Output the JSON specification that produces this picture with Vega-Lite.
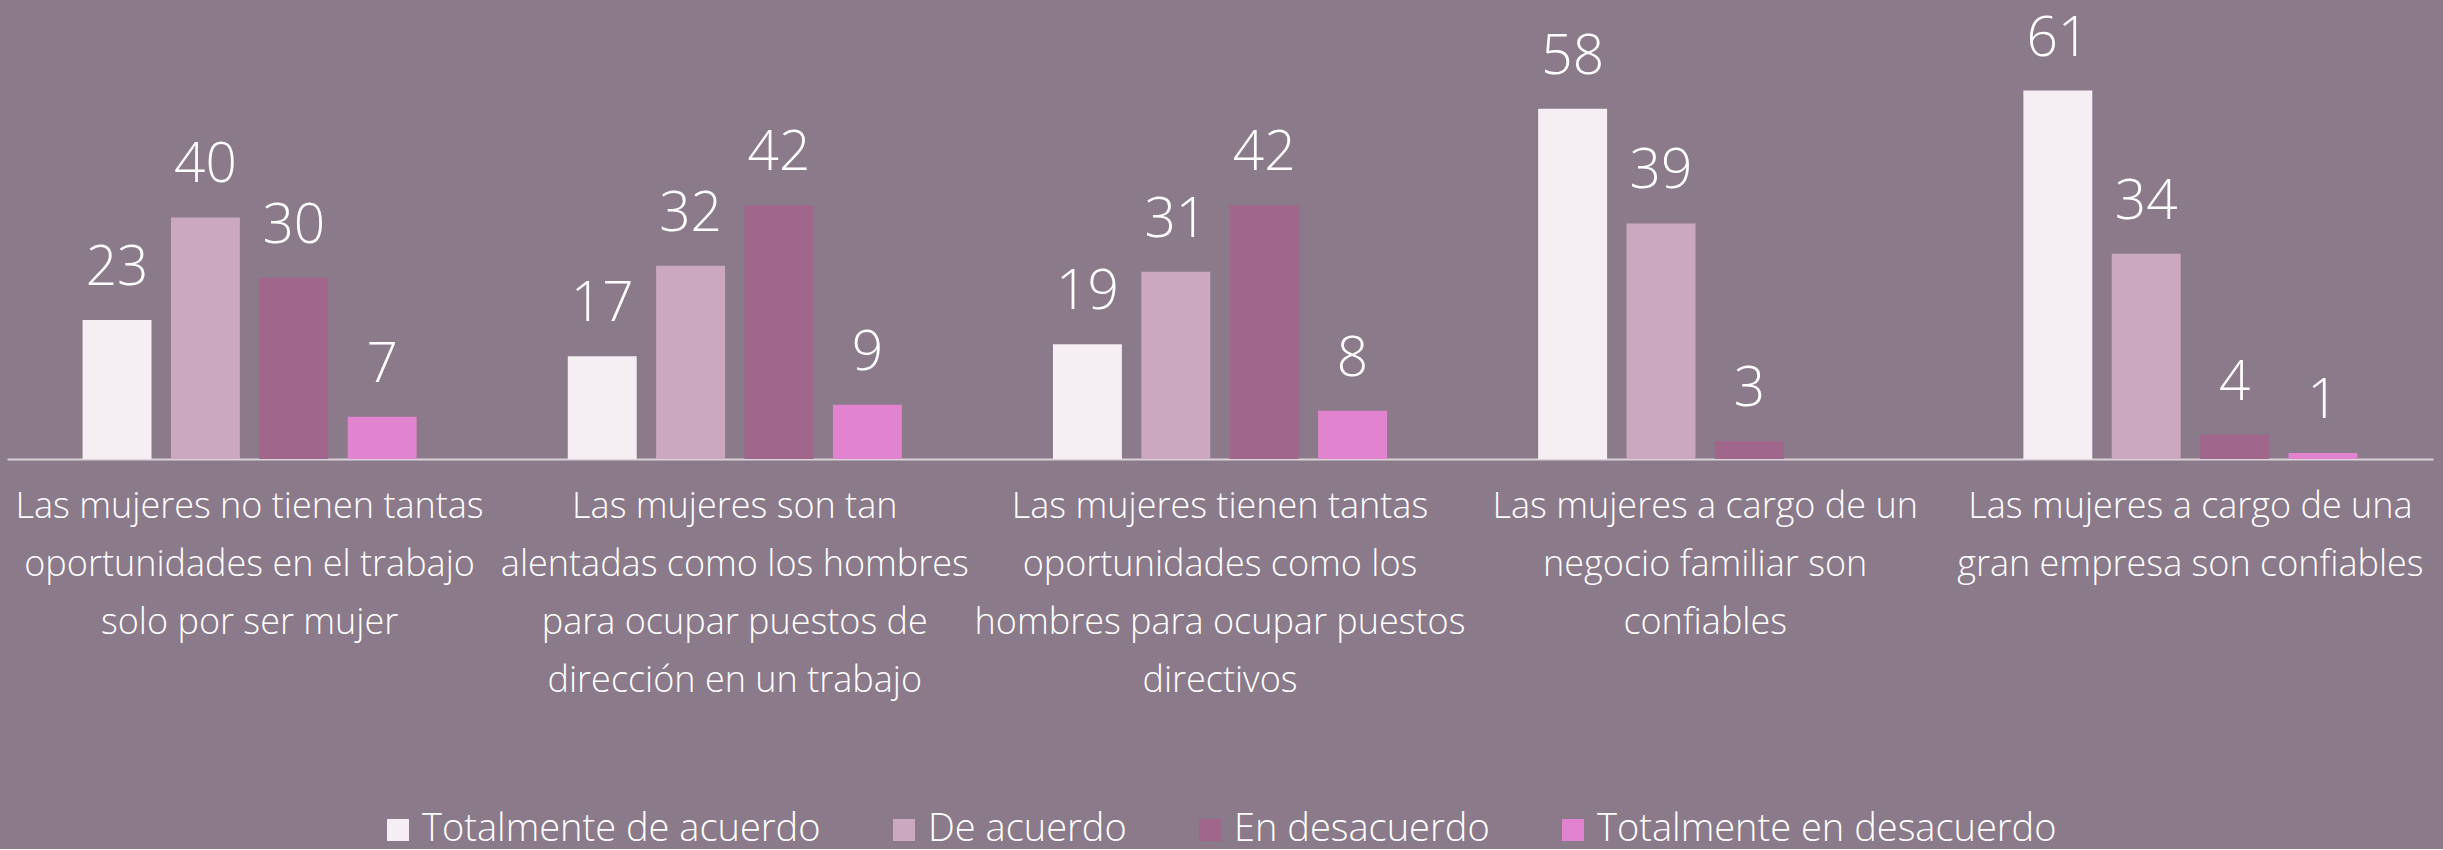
{
  "$schema": "https://vega.github.io/schema/vega-lite/v6.json",
  "width": 2426,
  "height": 459,
  "padding": {"left": 7, "top": 0, "right": 10, "bottom": 0},
  "background": "#8b7a8a",
  "config": {"view": {"stroke": null}, "font": "Open Sans"},
  "data": {
    "values": [
      {"cat": "Las mujeres no tienen tantas|oportunidades en el trabajo|solo por ser mujer", "serie": "Totalmente de acuerdo", "valor": 23},
      {"cat": "Las mujeres no tienen tantas|oportunidades en el trabajo|solo por ser mujer", "serie": "De acuerdo", "valor": 40},
      {"cat": "Las mujeres no tienen tantas|oportunidades en el trabajo|solo por ser mujer", "serie": "En desacuerdo", "valor": 30},
      {"cat": "Las mujeres no tienen tantas|oportunidades en el trabajo|solo por ser mujer", "serie": "Totalmente en desacuerdo", "valor": 7},
      {"cat": "Las mujeres son tan|alentadas como los hombres|para ocupar puestos de|dirección en un trabajo", "serie": "Totalmente de acuerdo", "valor": 17},
      {"cat": "Las mujeres son tan|alentadas como los hombres|para ocupar puestos de|dirección en un trabajo", "serie": "De acuerdo", "valor": 32},
      {"cat": "Las mujeres son tan|alentadas como los hombres|para ocupar puestos de|dirección en un trabajo", "serie": "En desacuerdo", "valor": 42},
      {"cat": "Las mujeres son tan|alentadas como los hombres|para ocupar puestos de|dirección en un trabajo", "serie": "Totalmente en desacuerdo", "valor": 9},
      {"cat": "Las mujeres tienen tantas|oportunidades como los|hombres para ocupar puestos|directivos", "serie": "Totalmente de acuerdo", "valor": 19},
      {"cat": "Las mujeres tienen tantas|oportunidades como los|hombres para ocupar puestos|directivos", "serie": "De acuerdo", "valor": 31},
      {"cat": "Las mujeres tienen tantas|oportunidades como los|hombres para ocupar puestos|directivos", "serie": "En desacuerdo", "valor": 42},
      {"cat": "Las mujeres tienen tantas|oportunidades como los|hombres para ocupar puestos|directivos", "serie": "Totalmente en desacuerdo", "valor": 8},
      {"cat": "Las mujeres a cargo de un|negocio familiar son|confiables", "serie": "Totalmente de acuerdo", "valor": 58},
      {"cat": "Las mujeres a cargo de un|negocio familiar son|confiables", "serie": "De acuerdo", "valor": 39},
      {"cat": "Las mujeres a cargo de un|negocio familiar son|confiables", "serie": "En desacuerdo", "valor": 3},
      {"cat": "Las mujeres a cargo de una|gran empresa son confiables", "serie": "Totalmente de acuerdo", "valor": 61},
      {"cat": "Las mujeres a cargo de una|gran empresa son confiables", "serie": "De acuerdo", "valor": 34},
      {"cat": "Las mujeres a cargo de una|gran empresa son confiables", "serie": "En desacuerdo", "valor": 4},
      {"cat": "Las mujeres a cargo de una|gran empresa son confiables", "serie": "Totalmente en desacuerdo", "valor": 1}
    ]
  },
  "encoding": {
    "x": {
      "field": "cat", "type": "nominal", "sort": null,
      "scale": {"paddingInner": 0, "paddingOuter": 0},
      "axis": {
        "title": null, "labelAngle": 0, "ticks": false,
        "domainColor": "#d9d2d7", "domainWidth": 2,
        "labelColor": "#ffffff", "labelFontSize": 36, "labelFont": "Open Sans", "labelFontWeight": 300,
        "labelLineHeight": 58, "labelPadding": 30, "labelLimit": 0, "labelOverlap": false,
        "labelExpr": "split(datum.label, '|')"
      }
    },
    "xOffset": {
      "field": "serie", "type": "nominal",
      "sort": ["Totalmente de acuerdo", "De acuerdo", "En desacuerdo", "Totalmente en desacuerdo"],
      "scale": {"paddingInner": 0.22, "paddingOuter": 0.855}
    },
    "y": {
      "field": "valor", "type": "quantitative",
      "scale": {"domain": [0, 76], "nice": false},
      "axis": null
    }
  },
  "layer": [
    {
      "mark": {"type": "bar"},
      "encoding": {
        "color": {
          "field": "serie", "type": "nominal",
          "sort": ["Totalmente de acuerdo", "De acuerdo", "En desacuerdo", "Totalmente en desacuerdo"],
          "scale": {
            "domain": ["Totalmente de acuerdo", "De acuerdo", "En desacuerdo", "Totalmente en desacuerdo"],
            "range": ["#f5eff3", "#cca8c0", "#a0668c", "#e283cf"]
          },
          "legend": {
            "title": null, "orient": "none", "direction": "horizontal",
            "legendX": 372, "legendY": 811,
            "symbolType": "square", "symbolSize": 484, "symbolStrokeWidth": 0,
            "labelColor": "#ffffff", "labelFontSize": 38, "labelFont": "Open Sans", "labelFontWeight": 300,
            "labelOffset": 5, "columnPadding": 64, "labelLimit": 0
          }
        }
      }
    },
    {
      "mark": {"type": "text", "baseline": "alphabetic", "dy": -35, "fontSize": 55, "color": "#ffffff", "font": "Open Sans", "fontWeight": 300},
      "encoding": {
        "text": {"field": "valor", "type": "quantitative"}
      }
    }
  ]
}
